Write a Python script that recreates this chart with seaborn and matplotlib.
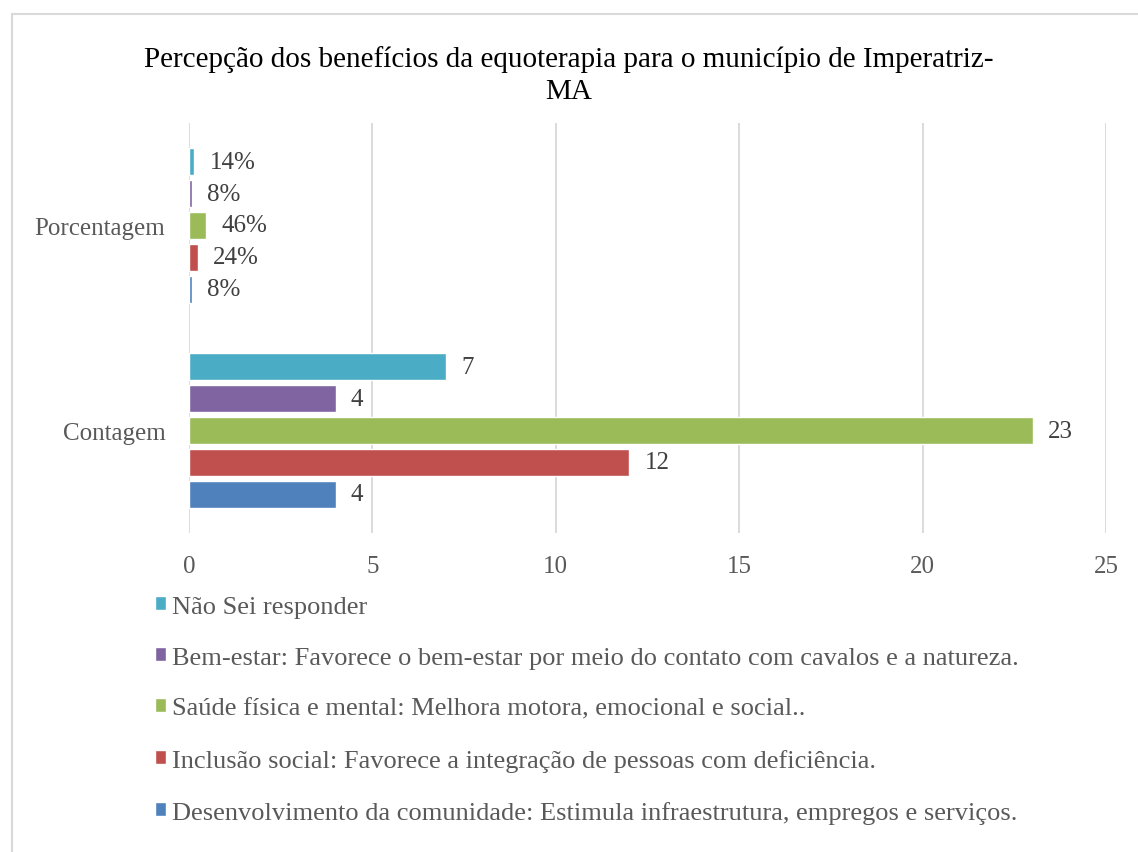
import matplotlib
matplotlib.use("Agg")
import matplotlib.pyplot as plt
import seaborn as sns
import pandas as pd
from matplotlib.patches import Rectangle

categories = ["Porcentagem", "Contagem"]
series = [
    "Não Sei responder",
    "Bem-estar: Favorece o bem-estar por meio do contato com cavalos e a natureza.",
    "Saúde física e mental: Melhora motora, emocional e social..",
    "Inclusão social: Favorece a integração de pessoas com deficiência.",
    "Desenvolvimento da comunidade: Estimula infraestrutura, empregos e serviços.",
]
porcentagem = [0.14, 0.08, 0.46, 0.24, 0.08]
contagem = [7, 4, 23, 12, 4]
colors = ["#4BACC6", "#8064A2", "#9BBB59", "#C0504D", "#4F81BD"]
xticks = [0, 5, 10, 15, 20, 25]
title = "Percepção dos benefícios da equoterapia para o município de Imperatriz-\nMA"

rows = []
for s, p, c in zip(series, porcentagem, contagem):
    rows.append({"cat": categories[0], "serie": s, "valor": p})
    rows.append({"cat": categories[1], "serie": s, "valor": c})
df = pd.DataFrame(rows)

sns.set_theme(style="white")
plt.rcParams["font.family"] = ["Liberation Serif", "DejaVu Serif"]

fig = plt.figure(figsize=(11.38, 8.53), dpi=100)
fig.patch.set_facecolor("white")
fig.patches.append(Rectangle((12 / 1138, -0.1), 1.2, 1 - 15 / 853 + 0.1,
                             transform=fig.transFigure, fill=False,
                             edgecolor="#d9d9d9", linewidth=1.5, zorder=0))
ax = fig.add_axes([189 / 1138, 1 - 534 / 853, (1106 - 189) / 1138, (534 - 124) / 853])

sns.barplot(data=df, y="cat", x="valor", hue="serie", order=categories,
            hue_order=series, palette=colors, orient="h", width=0.78,
            gap=0.14, ax=ax, legend=True, saturation=1)

for i, cont in enumerate(ax.containers):
    labels = [f"{porcentagem[i]*100:.0f}%", f"{contagem[i]}"]
    ax.bar_label(cont, labels=labels, padding=11, fontsize=18, color="#404040")

ax.set_xlim(0, 25)
ax.set_ylim(1.5, -0.5)
ax.set_xticks(xticks)
ax.set_xticklabels([str(t) for t in xticks], fontsize=18, color="#595959")
ax.tick_params(axis="y", labelsize=18, labelcolor="#595959", pad=17, length=0)
ax.tick_params(axis="x", pad=16, length=0)
ax.set_xlabel("")
ax.set_ylabel("")
ax.grid(axis="x", color="#d9d9d9", linewidth=1.3)
ax.set_axisbelow(True)
for sp in ax.spines.values():
    sp.set_visible(False)

handles, labs = ax.get_legend_handles_labels()
ax.get_legend().remove()
leg = fig.legend(handles, labs, loc="upper left", bbox_to_anchor=(144 / 1138, 1 - 586 / 853),
                 frameon=False, fontsize=19, labelcolor="#595959", handlelength=0.45,
                 handleheight=0.45, handletextpad=0.2, labelspacing=1.1, borderaxespad=0)

fig.suptitle(title, fontsize=21, y=1 - 46 / 853, va="top", color="black", linespacing=1.28)

fig.savefig("out.png", dpi=100, facecolor="white")
